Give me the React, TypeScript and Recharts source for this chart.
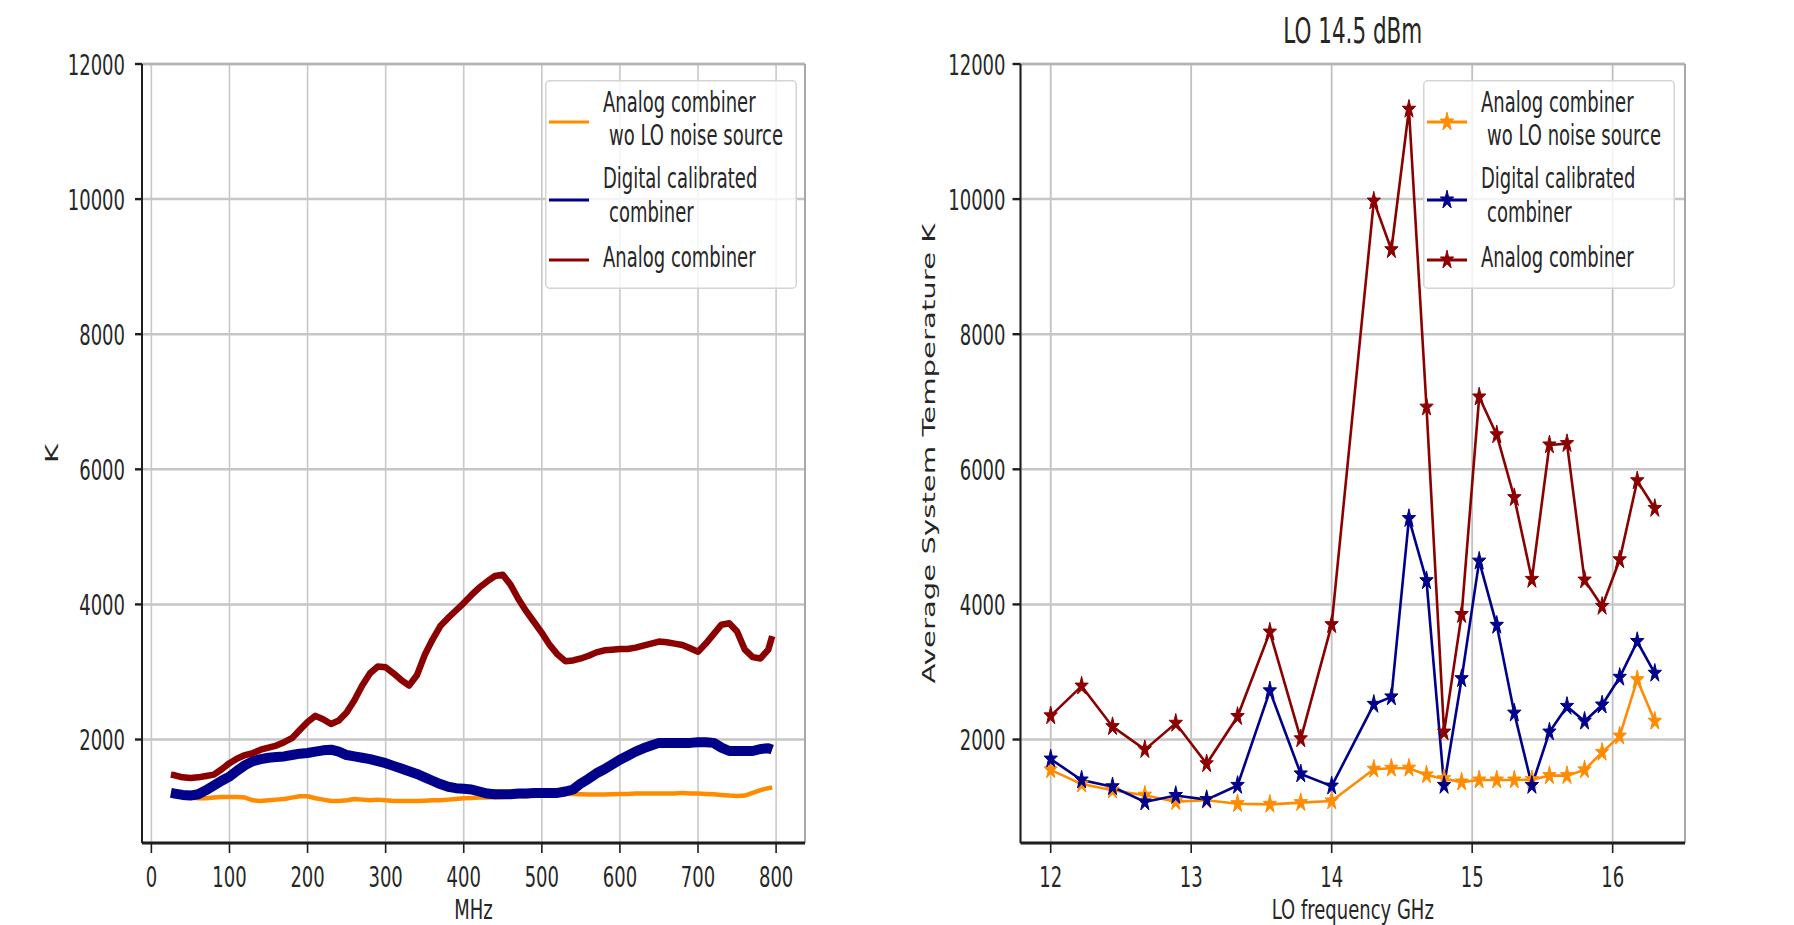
import React from "react";
import {
    LineChart,
    Line,
    XAxis,
    YAxis,
    CartesianGrid,
    Legend,
    ReferenceLine,
    Label,
} from "recharts";

// the source figure is vertically stretched, so text is squeezed the same way
const SY = 1.62;
const FONT = "DejaVu Sans";
const INK = "#262626";

const ORANGE = "#ff8c00";
const BLUE = "#00008b";
const RED = "#8b0000";

const seriesNames = [
    "Analog combiner\n wo LO noise source",
    "Digital calibrated\n combiner",
    "Analog combiner",
];

// left panel: K vs MHz
const mhz = [
    25, 30, 40, 50, 60, 70, 80, 90, 100, 110, 120, 130, 140, 150, 160, 170, 180, 190, 200, 210,
    220, 230, 240, 250, 260, 270, 280, 290, 300, 310, 320, 330, 340, 350, 360, 370, 380, 390, 400, 410,
    420, 430, 440, 450, 460, 470, 480, 490, 500, 510, 520, 530, 540, 550, 560, 570, 580, 590, 600, 610,
    620, 630, 640, 650, 660, 670, 680, 690, 700, 710, 720, 730, 740, 750, 760, 770, 780, 790, 795,
];
const woLoLeft = [
    1180, 1170, 1150, 1140, 1130, 1130, 1140, 1150, 1150, 1150, 1140, 1100, 1090, 1100, 1110, 1120, 1140, 1160, 1160, 1130,
    1110, 1090, 1090, 1100, 1120, 1110, 1100, 1110, 1100, 1090, 1090, 1090, 1090, 1095, 1100, 1100, 1110, 1120, 1130, 1135,
    1140, 1140, 1145, 1150, 1155, 1160, 1160, 1165, 1170, 1180, 1190, 1195, 1195, 1190, 1185, 1185, 1185, 1190, 1195, 1195,
    1200, 1200, 1200, 1200, 1200, 1200, 1210, 1200, 1200, 1195, 1190, 1180, 1170, 1165, 1170, 1210, 1250, 1280, 1290,
];
const digitalLeft = [
    1210, 1200, 1180, 1170, 1190, 1250, 1320, 1390, 1450, 1540, 1620, 1680, 1710, 1730, 1740, 1750, 1770, 1790, 1800, 1820,
    1840, 1850, 1820, 1770, 1750, 1730, 1710, 1680, 1650, 1610, 1570, 1530, 1490, 1440, 1390, 1340, 1300, 1280, 1270, 1260,
    1230, 1200, 1190, 1190, 1190, 1200, 1200, 1210, 1210, 1210, 1210, 1230, 1260, 1350, 1420, 1500, 1560, 1630, 1700, 1760,
    1820, 1870, 1910, 1950, 1950, 1950, 1950, 1950, 1960, 1960, 1950, 1880, 1830, 1830, 1830, 1830, 1860, 1870, 1850,
];
const analogLeft = [
    1480, 1470, 1440, 1430, 1440, 1460, 1480, 1560, 1650, 1720, 1770, 1800, 1850, 1880, 1910, 1960, 2020, 2140, 2260, 2350,
    2300, 2230, 2280, 2400, 2580, 2800, 2980, 3080, 3070, 2980, 2880, 2800, 2950, 3250, 3480, 3680, 3800, 3910, 4020, 4140,
    4250, 4340, 4420, 4440, 4290, 4080, 3900, 3740, 3580, 3400, 3260, 3160, 3170, 3200, 3240, 3290, 3320, 3330, 3340, 3340,
    3360, 3390, 3420, 3450, 3440, 3420, 3400, 3350, 3300, 3420, 3560, 3700, 3720, 3600, 3330, 3220, 3200, 3330, 3530,
];

// right panel: average system temperature vs LO frequency
const loGhz = [
    12.0, 12.22, 12.44, 12.67, 12.89, 13.11, 13.33, 13.56, 13.78, 14.0, 14.3, 14.425, 14.55, 14.675,
    14.8, 14.925, 15.05, 15.175, 15.3, 15.425, 15.55, 15.675, 15.8, 15.925, 16.05, 16.175, 16.3,
];
const woLoRight = [
    1550, 1340, 1250, 1175, 1080, 1100, 1050, 1040, 1065, 1090, 1560, 1575, 1575, 1475,
    1420, 1370, 1400, 1400, 1400, 1405, 1465, 1465, 1550, 1810, 2050, 2885, 2270,
];
const digitalRight = [
    1710, 1400, 1300, 1075, 1170, 1110, 1320, 2720, 1490, 1310, 2520, 2630, 5270, 4350,
    1320, 2900, 4640, 3690, 2390, 1320, 2110, 2490, 2270, 2510, 2920, 3450, 2980,
];
const analogRight = [
    2350, 2790, 2190, 1850, 2240, 1640, 2340, 3590, 2010, 3700, 9970, 9250, 11330, 6920,
    2110, 3850, 7070, 6510, 5580, 4370, 6360, 6380, 4360, 3970, 4660, 5830, 5420,
];

const kTicks = [2000, 4000, 6000, 8000, 10000, 12000];
const mhzTicks = [0, 100, 200, 300, 400, 500, 600, 700, 800];
const ghzTicks = [12, 13, 14, 15, 16];

const leftRows = mhz.map((f, i) => ({
    f,
    wo: woLoLeft[i],
    dig: digitalLeft[i],
    ana: analogLeft[i],
}));
const rightRows = loGhz.map((f, i) => ({
    f,
    wo: woLoRight[i],
    dig: digitalRight[i],
    ana: analogRight[i],
}));

function SText({ x, y, anchor = "middle", size = 18, rotate = false, sy = SY, dy, children }: any) {
    const t = `translate(${x},${y}) scale(1,${sy})${rotate ? " rotate(-90)" : ""}`;
    return (
        <text transform={t} textAnchor={anchor} fontSize={size} fontFamily={FONT} fill={INK} dy={dy}>
            {children}
        </text>
    );
}

const YTick = (p: any) => (
    <SText x={p.x} y={p.y} anchor="end" dy="0.36em">
        {p.payload.value}
    </SText>
);
const XTick = (p: any) => (
    <SText x={p.x} y={p.y} dy="0.73em">
        {p.payload.value}
    </SText>
);

function Star({ cx, cy, fill }: any) {
    const R = 7;
    const r = R * 0.382;
    const pts: string[] = [];
    for (let k = 0; k < 10; k++) {
        const a = (-90 + k * 36) * (Math.PI / 180);
        const rad = k % 2 === 0 ? R : r;
        pts.push(`${cx + rad * Math.cos(a)},${cy + rad * Math.sin(a) * 1.4}`);
    }
    return <polygon points={pts.join(" ")} fill={fill} stroke={fill} strokeWidth={1} strokeLinejoin="round" />;
}

const ROWS = [
    { handle: 42, lines: [31.5, 64.5] },
    { handle: 120, lines: [108, 142] },
    { handle: 180, lines: [187] },
];

function LegendBox({ payload = [], star }: any) {
    // keep plotting order (recharts sorts legend items by name)
    const items = [...payload].sort(
        (a: any, b: any) => seriesNames.indexOf(a.value) - seriesNames.indexOf(b.value)
    );
    return (
        <svg width={252} height={209} style={{ display: "block", overflow: "visible" }}>
            <rect
                x={0.75}
                y={0.75}
                width={250.5}
                height={207.5}
                rx={4}
                fill="#ffffff"
                fillOpacity={0.8}
                stroke="#d4d4d4"
                strokeWidth={1.5}
            />
            {items.map((e: any, i: number) => {
                const row = ROWS[i];
                const parts = String(e.value).split("\n");
                return (
                    <g key={i}>
                        <line x1={4} x2={44} y1={row.handle} y2={row.handle} stroke={e.color} strokeWidth={3} />
                        {star && <Star cx={24} cy={row.handle} fill={e.color} />}
                        {parts.map((s, j) => (
                            <SText key={j} x={s.startsWith(" ") ? 64 : 58} y={row.lines[j]} anchor="start">
                                {s.trim()}
                            </SText>
                        ))}
                    </g>
                );
            })}
        </svg>
    );
}

const starDot = (color: string) => (p: any) =>
    <Star key={`s${p.index}`} cx={p.cx} cy={p.cy} fill={color} />;

function Frame({ xMax }: { xMax: number }) {
    return (
        <>
            <ReferenceLine y={12000} stroke="#b4b4b4" strokeWidth={2.5} />
            <ReferenceLine x={xMax} stroke="#a8a8a8" strokeWidth={2} />
        </>
    );
}

// axis title sits at the very bottom edge, as in the source
const AXIS_TITLE_DY = 76;
const axisTitle = (text: string) => (p: any) => (
    <SText x={p.viewBox.x + p.viewBox.width / 2} y={p.viewBox.y + AXIS_TITLE_DY} sy={1.5}>
        {text}
    </SText>
);

function LeftPanel() {
    const xMax = 837;
    return (
        <LineChart
            width={900}
            height={925}
            data={leftRows}
            margin={{ top: 64, left: 82, right: 95, bottom: 52 }}
        >
            <CartesianGrid horizontal={false} stroke="#c8c8c8" strokeWidth={1.6} />
            <CartesianGrid vertical={false} stroke="#c6c6c6" strokeWidth={2.5} />
            <XAxis
                dataKey="f"
                type="number"
                domain={[-12, xMax]}
                ticks={mhzTicks}
                allowDataOverflow
                height={30}
                tickSize={10}
                tickMargin={13}
                tick={XTick}
                axisLine={{ stroke: "#1e1e1e", strokeWidth: 3 }}
                tickLine={{ stroke: "#1e1e1e", strokeWidth: 1.6 }}
            >
                <Label content={axisTitle("MHz")} />
            </XAxis>
            <YAxis
                type="number"
                domain={[468, 12000]}
                ticks={kTicks}
                allowDataOverflow
                width={60}
                tickSize={7}
                tickMargin={10}
                tick={YTick}
                axisLine={{ stroke: "#1e1e1e", strokeWidth: 2 }}
                tickLine={{ stroke: "#1e1e1e", strokeWidth: 2.4 }}
            >
                <Label
                    content={(p: any) => (
                        <SText x={p.viewBox.x - 30.5} y={p.viewBox.y + p.viewBox.height / 2} rotate dy="0.36em">
                            K
                        </SText>
                    )}
                />
            </YAxis>
            {Frame({ xMax })}
            <Line dataKey="wo" name={seriesNames[0]} stroke={ORANGE} strokeWidth={4.5} dot={false} activeDot={false} isAnimationActive={false} strokeLinejoin="round" />
            <Line dataKey="dig" name={seriesNames[1]} stroke={BLUE} strokeWidth={10} dot={false} activeDot={false} isAnimationActive={false} strokeLinejoin="round" />
            <Line dataKey="ana" name={seriesNames[2]} stroke={RED} strokeWidth={6.5} dot={false} activeDot={false} isAnimationActive={false} strokeLinejoin="round" />
            <Legend
                layout="horizontal"
                verticalAlign="middle"
                align="center"
                wrapperStyle={{ left: 545, top: 80, width: 252, height: 209 }}
                content={(p: any) => <LegendBox payload={p.payload} />}
            />
        </LineChart>
    );
}

function RightPanel() {
    const xMax = 16.515;
    return (
        <LineChart
            width={894}
            height={925}
            data={rightRows}
            margin={{ top: 64, left: 60.5, right: 109, bottom: 52 }}
        >
            <CartesianGrid horizontal={false} stroke="#c0c0c0" strokeWidth={1.8} />
            <CartesianGrid vertical={false} stroke="#c6c6c6" strokeWidth={2.5} />
            <XAxis
                dataKey="f"
                type="number"
                domain={[11.785, xMax]}
                ticks={ghzTicks}
                allowDataOverflow
                height={30}
                tickSize={10}
                tickMargin={13}
                tick={XTick}
                axisLine={{ stroke: "#1e1e1e", strokeWidth: 3 }}
                tickLine={{ stroke: "#1e1e1e", strokeWidth: 1.6 }}
            >
                <Label content={axisTitle("LO frequency GHz")} />
            </XAxis>
            <YAxis
                type="number"
                domain={[468, 12000]}
                ticks={kTicks}
                allowDataOverflow
                width={60}
                tickSize={8}
                tickMargin={7}
                tick={YTick}
                axisLine={{ stroke: "#1e1e1e", strokeWidth: 2 }}
                tickLine={{ stroke: "#1e1e1e", strokeWidth: 2.4 }}
            >
                <Label
                    content={(p: any) => (
                        <SText x={p.viewBox.x - 32} y={p.viewBox.y + p.viewBox.height / 2} rotate dy="0.36em">
                            Average System Temperature K
                        </SText>
                    )}
                />
            </YAxis>
            {Frame({ xMax })}
            <Line dataKey="wo" name={seriesNames[0]} stroke={ORANGE} strokeWidth={2.6} dot={starDot(ORANGE)} activeDot={false} isAnimationActive={false} />
            <Line dataKey="dig" name={seriesNames[1]} stroke={BLUE} strokeWidth={2.6} dot={starDot(BLUE)} activeDot={false} isAnimationActive={false} />
            <Line dataKey="ana" name={seriesNames[2]} stroke={RED} strokeWidth={2.6} dot={starDot(RED)} activeDot={false} isAnimationActive={false} />
            <Legend
                layout="horizontal"
                verticalAlign="middle"
                align="center"
                wrapperStyle={{ left: 523, top: 80, width: 252, height: 209 }}
                content={(p: any) => <LegendBox payload={p.payload} star />}
            />
        </LineChart>
    );
}

export default function App() {
    return (
        <div
            style={{
                position: "absolute",
                left: 0,
                top: 0,
                width: 1794,
                height: 925,
                background: "#ffffff",
                overflow: "hidden",
            }}
        >
            <div style={{ position: "absolute", left: 0, top: 0 }}>
                <LeftPanel />
            </div>
            <div style={{ position: "absolute", left: 900, top: 0 }}>
                <RightPanel />
            </div>
            <svg
                width={894}
                height={60}
                style={{ position: "absolute", left: 900, top: 0, pointerEvents: "none" }}
            >
                <SText x={452.75} y={43} size={21.5}>
                    LO 14.5 dBm
                </SText>
            </svg>
        </div>
    );
}
